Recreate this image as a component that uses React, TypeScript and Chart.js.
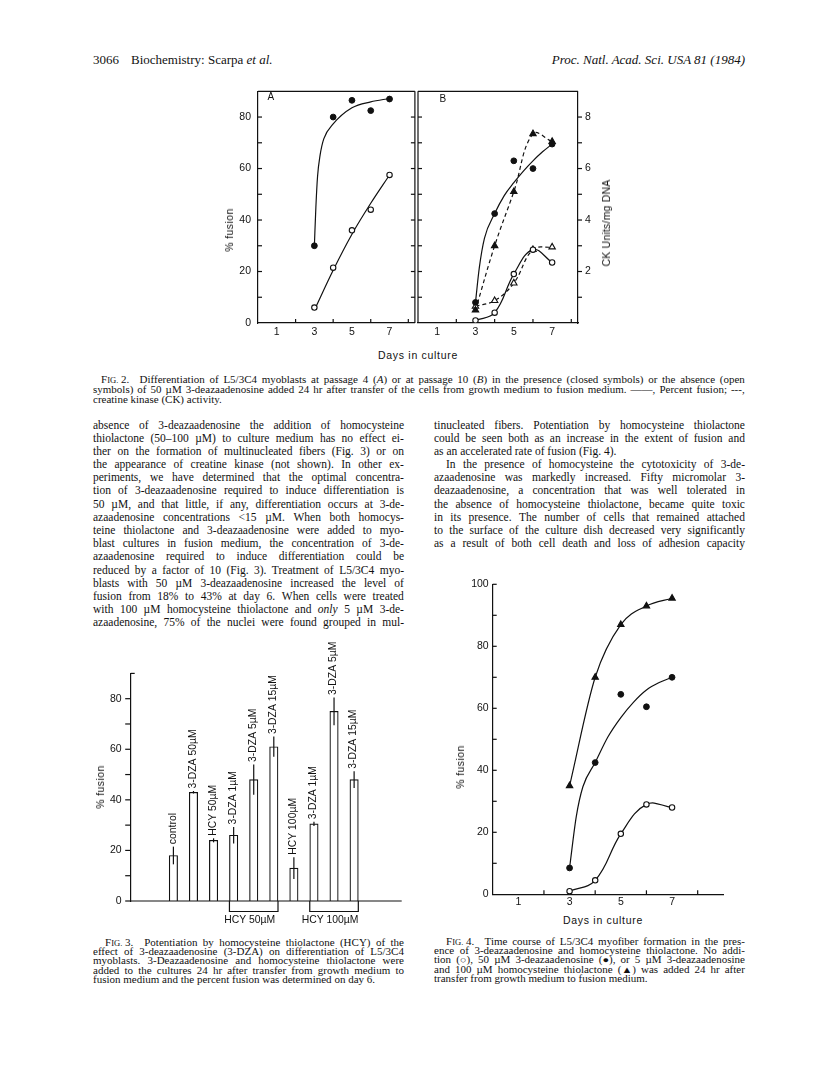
import React, { useEffect, useRef } from "react";
import { Chart, registerables } from "chart.js";

Chart.register(...registerables);

const INK = "#111111";
const SANS = "'Liberation Sans', Arial, Helvetica, sans-serif";
const SERIF = "'Liberation Serif', 'Times New Roman', Times, serif";

// ---------- shared axis values ----------
const days = [3, 4, 5, 6, 7];
const dayLabelTicks = [1, 3, 5, 7];
const dayMinorTicks = [2, 4, 6, 8];
const fusionLabelTicks = [0, 20, 40, 60, 80];
const fusionMinorTicks = [10, 20, 30, 40, 50, 60, 70, 80];
const ckLabelTicks = [2, 4, 6, 8];
const ckMinorTicks = [1, 2, 3, 4, 5, 6, 7, 8];

// ---------- Fig. 2A ----------
const fig2A_fusionClosed = [30, 80, 86.5, 82.5, 87];
const fig2A_fusionOpen = [6, 21.5, 36, 44, 57.5];
const fig2A_closedCurveDays = [3, 3.08, 3.17, 3.3, 3.5, 4, 5, 6, 7];
const fig2A_closedCurveFusion = [30, 45, 57, 65, 71.5, 77.3, 83.6, 85.9, 87.2];
const fig2A_openCurveDays = [3, 4, 5, 6, 7];
const fig2A_openCurveFusion = [5, 20.5, 34.5, 46.5, 57.5];

// ---------- Fig. 2B ----------
const fig2B_fusionClosed = [8, 42.5, 63, 60, 69.5];
const fig2B_fusionOpen = [1, 4, 19, 28.5, 23.5];
const fig2B_ckClosed = [0.5, 3.0, 5.1, 7.35, 7.05];
const fig2B_ckOpen = [0.65, 0.87, 1.55, 2.85, 2.95];
const fig2B_closedCurveDays = [3, 3.2, 3.47, 4, 4.5, 5, 5.5, 6, 6.5, 7];
const fig2B_closedCurveFusion = [8, 21.5, 33, 42.5, 49.5, 54.5, 59, 63, 66.5, 69.5];

// ---------- Fig. 3 ----------
const fig3Labels = [
  "control",
  "3-DZA 50µM",
  "HCY 50µM",
  "3-DZA 1µM",
  "3-DZA 5µM",
  "3-DZA 15µM",
  "HCY 100µM",
  "3-DZA 1µM",
  "3-DZA 5µM",
  "3-DZA 15µM",
];
const fig3Values = [18, 43, 24, 26, 48, 61, 13, 30.5, 75, 48];
const fig3Errors = [3.5, 0.5, 0.8, 3.3, 6, 4, 4.3, 0.8, 5.5, 3.3];
const fig3GroupLabels = ["HCY 50µM", "HCY 100µM"];
const fig3GroupFrom = [4, 8];
const fig3GroupTo = [6, 10];
const fig3LabelTicks = [0, 20, 40, 60, 80];
const fig3MinorTicks = [0, 10, 20, 30, 40, 50, 60, 70, 80];

// ---------- Fig. 4 ----------
const fig4LabelTicks = [0, 20, 40, 60, 80, 100];
const fig4MinorTicks = [10, 20, 30, 40, 50, 60, 70, 80, 90];
const fig4Triangle = [35, 70, 87, 93, 95.5];
const fig4Closed = [8.5, 42.5, 64.5, 60.5, 70];
const fig4Open = [1, 4.5, 19.5, 29, 28];
const fig4ClosedCurveDays = [3, 3.26, 3.52, 4, 4.5, 5, 5.5, 6, 6.5, 7];
const fig4ClosedCurveFusion = [8.5, 25, 34.7, 42.5, 50.8, 57, 62, 65.9, 68.3, 70];

// ---------- helpers ----------
type Pt = { x: number; y: number };
const zip = (xs: number[], ys: number[]): Pt[] => xs.map((x, i) => ({ x, y: ys[i] }));
const fixedTicks = (values: number[]) => (s: any) => {
  s.ticks = values.map((v) => ({ value: v }));
};
function seg(ctx: CanvasRenderingContext2D, x1: number, y1: number, x2: number, y2: number) {
  ctx.beginPath();
  ctx.moveTo(x1, y1);
  ctx.lineTo(x2, y2);
  ctx.stroke();
}

const tickFont = { family: SANS, size: 10.5 };
const LW = 1.2;
const noGrid = { display: false, drawTicks: false, tickLength: 0 };

const closedPts = (data: Pt[]) => ({
  data,
  showLine: false,
  pointStyle: "circle",
  pointRadius: 2.9,
  pointBackgroundColor: INK,
  pointBorderColor: INK,
  pointBorderWidth: 1,
  order: 0,
});
const openPts = (data: Pt[]) => ({
  data,
  showLine: false,
  pointStyle: "circle",
  pointRadius: 2.7,
  pointBackgroundColor: "#fff",
  pointBorderColor: INK,
  pointBorderWidth: 1.1,
  order: 0,
});
const triPts = (data: Pt[], filled: boolean, extra: any = {}) => ({
  data,
  showLine: false,
  pointStyle: "triangle",
  pointRadius: 3.7,
  pointBackgroundColor: filled ? INK : "#fff",
  pointBorderColor: INK,
  pointBorderWidth: 1.1,
  order: 0,
  ...extra,
});
const curve = (data: Pt[], extra: any = {}) => ({
  data,
  showLine: true,
  pointRadius: 0,
  borderColor: INK,
  borderWidth: LW,
  fill: false,
  order: 1,
  ...extra,
});

const baseOptions = (padding: any) => ({
  responsive: false,
  animation: false,
  events: [],
  layout: { padding },
  plugins: { legend: { display: false }, tooltip: { enabled: false }, title: { display: false } },
});

const axisBorder = { display: true, color: INK, width: LW };

// ---------- chart configs ----------
function fig2AConfig() {
  return {
    type: "scatter",
    data: {
      datasets: [
        closedPts(zip(days, fig2A_fusionClosed)),
        openPts(zip(days, fig2A_fusionOpen)),
        curve(zip(fig2A_closedCurveDays, fig2A_closedCurveFusion), { cubicInterpolationMode: "monotone" }),
        curve(zip(fig2A_openCurveDays, fig2A_openCurveFusion), { tension: 0.35 }),
      ],
    },
    options: {
      ...baseOptions({ top: 10, right: 2, bottom: 0, left: 0 }),
      scales: {
        x: {
          type: "linear",
          min: 0,
          max: 8.35,
          afterBuildTicks: fixedTicks(dayLabelTicks),
          afterFit: (s: any) => {
            s.height = 23;
          },
          grid: noGrid,
          border: axisBorder,
          ticks: { font: tickFont, color: INK, padding: 3, maxRotation: 0, autoSkip: false },
        },
        y: {
          min: 0,
          max: 90,
          afterBuildTicks: fixedTicks(fusionLabelTicks),
          afterFit: (s: any) => {
            s.width = 50;
          },
          grid: noGrid,
          border: axisBorder,
          ticks: { font: tickFont, color: INK, padding: 7, autoSkip: false },
        },
      },
    },
    plugins: [
      {
        id: "fig2aDeco",
        afterDraw(chart: any) {
          const { ctx, chartArea: a } = chart;
          const xs = chart.scales.x;
          const ys = chart.scales.y;
          ctx.save();
          ctx.strokeStyle = INK;
          ctx.lineWidth = LW;
          seg(ctx, a.left, a.top, a.right, a.top);
          seg(ctx, a.right, a.top, a.right, a.bottom);
          fusionMinorTicks.forEach((v) => {
            const p = ys.getPixelForValue(v);
            seg(ctx, a.left, p, a.left + 4, p);
            seg(ctx, a.right, p, a.right - 4, p);
          });
          dayMinorTicks.forEach((d) => {
            const p = xs.getPixelForValue(d);
            seg(ctx, p, a.bottom, p, a.bottom - 4);
          });
          ctx.restore();
        },
      },
    ],
  };
}

function fig2BConfig() {
  return {
    type: "scatter",
    data: {
      datasets: [
        closedPts(zip(days, fig2B_fusionClosed)),
        openPts(zip(days, fig2B_fusionOpen)),
        triPts(zip(days, fig2B_ckClosed), true, { yAxisID: "y2" }),
        triPts(zip(days, fig2B_ckOpen), false, { yAxisID: "y2" }),
        curve(zip(fig2B_closedCurveDays, fig2B_closedCurveFusion), { cubicInterpolationMode: "monotone" }),
        curve(zip(days, fig2B_fusionOpen), { tension: 0.4 }),
        curve(zip(days, fig2B_ckClosed), { yAxisID: "y2", tension: 0.4, borderDash: [4, 3] }),
        curve(zip(days, fig2B_ckOpen), { yAxisID: "y2", tension: 0.4, borderDash: [4, 3] }),
      ],
    },
    options: {
      ...baseOptions({ top: 10, right: 0, bottom: 0, left: 8 }),
      scales: {
        x: {
          type: "linear",
          min: 0,
          max: 8.35,
          afterBuildTicks: fixedTicks(dayLabelTicks),
          afterFit: (s: any) => {
            s.height = 23;
          },
          grid: noGrid,
          border: axisBorder,
          ticks: { font: tickFont, color: INK, padding: 3, maxRotation: 0, autoSkip: false },
        },
        y: { display: false, min: 0, max: 90 },
        y2: {
          position: "right",
          min: 0,
          max: 9,
          afterBuildTicks: fixedTicks(ckLabelTicks),
          afterFit: (s: any) => {
            s.width = 64;
          },
          grid: noGrid,
          border: axisBorder,
          ticks: { font: tickFont, color: INK, padding: 7, autoSkip: false },
        },
      },
    },
    plugins: [
      {
        id: "fig2bDeco",
        afterDraw(chart: any) {
          const { ctx, chartArea: a } = chart;
          const xs = chart.scales.x;
          const ys = chart.scales.y;
          const y2 = chart.scales.y2;
          ctx.save();
          ctx.strokeStyle = INK;
          ctx.lineWidth = LW;
          seg(ctx, a.left, a.top, a.right, a.top);
          seg(ctx, a.left, a.top, a.left, a.bottom);
          fusionMinorTicks.forEach((v) => {
            const p = ys.getPixelForValue(v);
            seg(ctx, a.left, p, a.left + 4, p);
          });
          ckMinorTicks.forEach((v) => {
            const p = y2.getPixelForValue(v);
            seg(ctx, a.right, p, a.right + 4, p);
          });
          dayMinorTicks.forEach((d) => {
            const p = xs.getPixelForValue(d);
            seg(ctx, p, a.bottom, p, a.bottom - 4);
          });
          ctx.restore();
        },
      },
    ],
  };
}

function fig3Config() {
  return {
    type: "bar",
    data: {
      datasets: [
        {
          data: fig3Values.map((v, i) => ({ x: i + 1, y: v })),
          backgroundColor: "#fff",
          borderColor: INK,
          borderWidth: LW,
          barThickness: 8.4,
        },
      ],
    },
    options: {
      ...baseOptions({ top: 45.4, right: 8.3, bottom: 31, left: 0 }),
      scales: {
        x: { type: "linear", min: 0.223, max: 11.02, display: false },
        y: {
          min: 0,
          max: 90,
          afterBuildTicks: fixedTicks(fig3LabelTicks),
          afterFit: (s: any) => {
            s.width = 44.7;
          },
          grid: noGrid,
          border: axisBorder,
          ticks: { font: tickFont, color: INK, padding: 9, autoSkip: false },
        },
      },
    },
    plugins: [
      {
        id: "fig3Deco",
        afterDraw(chart: any) {
          const { ctx, chartArea: a } = chart;
          const xs = chart.scales.x;
          const ys = chart.scales.y;
          ctx.save();
          ctx.strokeStyle = INK;
          ctx.fillStyle = INK;
          ctx.lineWidth = LW;
          seg(ctx, a.left, a.bottom, a.right, a.bottom);
          fig3MinorTicks.forEach((v) => {
            const p = ys.getPixelForValue(v);
            seg(ctx, a.left - 5.5, p, a.left, p);
          });
          const top = ys.getPixelForValue(90);
          seg(ctx, a.left, top, a.left + 4, top);
          ctx.font = `10.4px ${SANS}`;
          fig3Values.forEach((v, i) => {
            const px = xs.getPixelForValue(i + 1);
            const e = fig3Errors[i];
            const yTop = ys.getPixelForValue(v + e);
            seg(ctx, px, ys.getPixelForValue(v - e), px, yTop);
            ctx.save();
            ctx.translate(px - 0.5, yTop - 2.5);
            ctx.rotate(-Math.PI / 2);
            ctx.textAlign = "left";
            ctx.textBaseline = "middle";
            ctx.fillText(fig3Labels[i], 0, 0);
            ctx.restore();
          });
          const half = 4.2;
          fig3GroupLabels.forEach((lab, g) => {
            const xl = xs.getPixelForValue(fig3GroupFrom[g]) - half;
            const xr = xs.getPixelForValue(fig3GroupTo[g]) + half;
            const yb = a.bottom + 10.5;
            ctx.beginPath();
            ctx.moveTo(xl, a.bottom);
            ctx.lineTo(xl, yb);
            ctx.lineTo(xr, yb);
            ctx.lineTo(xr, a.bottom);
            ctx.stroke();
            ctx.textAlign = "center";
            ctx.textBaseline = "middle";
            ctx.fillText(lab, (xl + xr) / 2 - 4, a.bottom + 19.5);
          });
          ctx.restore();
        },
      },
    ],
  };
}

function fig4Config() {
  return {
    type: "scatter",
    data: {
      datasets: [
        triPts(zip(days, fig4Triangle), true, { showLine: true, borderColor: INK, borderWidth: LW, cubicInterpolationMode: "monotone" }),
        closedPts(zip(days, fig4Closed)),
        openPts(zip(days, fig4Open)),
        curve(zip(fig4ClosedCurveDays, fig4ClosedCurveFusion), { cubicInterpolationMode: "monotone" }),
        curve(zip(days, fig4Open), { tension: 0.4 }),
      ],
    },
    options: {
      ...baseOptions({ top: 16.3, right: 8.7, bottom: 0, left: 0 }),
      scales: {
        x: {
          type: "linear",
          min: 0,
          max: 9,
          afterBuildTicks: fixedTicks(dayLabelTicks),
          afterFit: (s: any) => {
            s.height = 19.7;
          },
          grid: noGrid,
          border: axisBorder,
          ticks: { font: tickFont, color: INK, padding: 2, maxRotation: 0, autoSkip: false },
        },
        y: {
          min: 0,
          max: 100,
          afterBuildTicks: fixedTicks(fig4LabelTicks),
          afterFit: (s: any) => {
            s.width = 37.7;
          },
          grid: noGrid,
          border: axisBorder,
          ticks: { font: tickFont, color: INK, padding: 4, autoSkip: false },
        },
      },
    },
    plugins: [
      {
        id: "fig4Deco",
        afterDraw(chart: any) {
          const { ctx, chartArea: a } = chart;
          const xs = chart.scales.x;
          const ys = chart.scales.y;
          ctx.save();
          ctx.strokeStyle = INK;
          ctx.lineWidth = LW;
          fig4MinorTicks.forEach((v) => {
            const p = ys.getPixelForValue(v);
            seg(ctx, a.left, p, a.left + 4, p);
          });
          const top = ys.getPixelForValue(100);
          seg(ctx, a.left, top, a.left + 4, top);
          dayMinorTicks.forEach((d) => {
            const p = xs.getPixelForValue(d);
            seg(ctx, p, a.bottom, p, a.bottom - 4);
          });
          ctx.restore();
        },
      },
    ],
  };
}

// ---------- text ----------
type LineSpec = { t: string; j?: boolean; ind?: number };

const fig2Caption: LineSpec[] = [
  { t: "F{IG.}\u00a02.\u00a0\u00a0 Differentiation of L5/3C4 myoblasts at passage 4 (*A*) or at passage 10 (*B*) in the presence (closed symbols) or the absence (open", ind: 8 },
  { t: "symbols) of 50 µM 3-deazaadenosine added 24 hr after transfer of the cells from growth medium to fusion medium. ——, Percent fusion; ---," },
  { t: "creatine kinase (CK) activity.", j: false },
];

const leftBody: LineSpec[] = [
  { t: "absence of 3-deazaadenosine the addition of homocysteine" },
  { t: "thiolactone (50–100 µM) to culture medium has no effect ei-" },
  { t: "ther on the formation of multinucleated fibers (Fig. 3) or on" },
  { t: "the appearance of creatine kinase (not shown). In other ex-" },
  { t: "periments, we have determined that the optimal concentra-" },
  { t: "tion of 3-deazaadenosine required to induce differentiation is" },
  { t: "50 µM, and that little, if any, differentiation occurs at 3-de-" },
  { t: "azaadenosine concentrations <15 µM. When both homocys-" },
  { t: "teine thiolactone and 3-deazaadenosine were added to myo-" },
  { t: "blast cultures in fusion medium, the concentration of 3-de-" },
  { t: "azaadenosine required to induce differentiation could be" },
  { t: "reduced by a factor of 10 (Fig. 3). Treatment of L5/3C4 myo-" },
  { t: "blasts with 50 µM 3-deazaadenosine increased the level of" },
  { t: "fusion from 18% to 43% at day 6. When cells were treated" },
  { t: "with 100 µM homocysteine thiolactone and *only* 5 µM 3-de-" },
  { t: "azaadenosine, 75% of the nuclei were found grouped in mul-" },
];

const rightBody: LineSpec[] = [
  { t: "tinucleated fibers. Potentiation by homocysteine thiolactone" },
  { t: "could be seen both as an increase in the extent of fusion and" },
  { t: "as an accelerated rate of fusion (Fig. 4).", j: false },
  { t: "In the presence of homocysteine the cytotoxicity of 3-de-", ind: 12 },
  { t: "azaadenosine was markedly increased. Fifty micromolar 3-" },
  { t: "deazaadenosine, a concentration that was well tolerated in" },
  { t: "the absence of homocysteine thiolactone, became quite toxic" },
  { t: "in its presence. The number of cells that remained attached" },
  { t: "to the surface of the culture dish decreased very significantly" },
  { t: "as a result of both cell death and loss of adhesion capacity" },
];

const fig3Caption: LineSpec[] = [
  { t: "F{IG.}\u00a03.\u00a0\u00a0 Potentiation by homocysteine thiolactone (HCY) of the", ind: 12 },
  { t: "effect of 3-deazaadenosine (3-DZA) on differentiation of L5/3C4" },
  { t: "myoblasts. 3-Deazaadenosine and homocysteine thiolactone were" },
  { t: "added to the cultures 24 hr after transfer from growth medium to" },
  { t: "fusion medium and the percent fusion was determined on day 6.", j: false },
];

const fig4Caption: LineSpec[] = [
  { t: "F{IG.}\u00a04.\u00a0\u00a0 Time course of L5/3C4 myofiber formation in the pres-", ind: 12 },
  { t: "ence of 3-deazaadenosine and homocysteine thiolactone. No addi-" },
  { t: "tion (○), 50 µM 3-deazaadenosine (●), or 5 µM 3-deazaadenosine" },
  { t: "and 100 µM homocysteine thiolactone (▲) was added 24 hr after" },
  { t: "transfer from growth medium to fusion medium.", j: false },
];

let measureCtx: CanvasRenderingContext2D | null = null;
function textWidth(text: string, fontSize: number): number {
  if (!measureCtx) measureCtx = document.createElement("canvas").getContext("2d");
  if (!measureCtx) return 0;
  measureCtx.font = `${fontSize}px ${SERIF}`;
  return measureCtx.measureText(text.replace(/[*{}]/g, "")).width;
}

function Rich({ token }: { token: string }) {
  const parts: React.ReactNode[] = [];
  let italic = false;
  let small = false;
  let buf = "";
  let k = 0;
  const flush = () => {
    if (buf) {
      parts.push(
        <span key={k++} style={{ fontStyle: italic ? "italic" : "normal", fontSize: small ? "0.78em" : undefined }}>
          {buf}
        </span>
      );
      buf = "";
    }
  };
  for (const c of token) {
    if (c === "*") {
      flush();
      italic = !italic;
    } else if (c === "{") {
      flush();
      small = true;
    } else if (c === "}") {
      flush();
      small = false;
    } else buf += c;
  }
  flush();
  return <>{parts}</>;
}

function TextBlock({
  left,
  top,
  width,
  fontSize,
  lineHeight,
  lines,
  squeeze = 1,
}: {
  left: number;
  top: number;
  width: number;
  fontSize: number;
  lineHeight: number;
  lines: LineSpec[];
  squeeze?: number;
}) {
  return (
    <div
      style={{
        position: "absolute",
        left,
        top,
        width,
        fontFamily: SERIF,
        fontSize,
        color: INK,
        transform: squeeze !== 1 ? `scaleY(${squeeze})` : undefined,
        transformOrigin: "0 0",
      }}
    >
      {lines.map((ln, i) => {
        const ind = ln.ind || 0;
        const avail = width - ind;
        const words = ln.t.split(" ");
        const base: React.CSSProperties = {
          height: lineHeight,
          lineHeight: lineHeight + "px",
          whiteSpace: "pre",
          marginLeft: ind,
        };
        const natural = textWidth(ln.t, fontSize);
        const plain = (
          <>
            {words.map((w, n) => (
              <React.Fragment key={n}>
                {n > 0 ? " " : ""}
                <Rich token={w} />
              </React.Fragment>
            ))}
          </>
        );
        if (ln.j === false) {
          return (
            <div key={i} style={{ ...base, width: avail }}>
              {plain}
            </div>
          );
        }
        if (natural > avail) {
          return (
            <div
              key={i}
              style={{ ...base, width: natural, transform: `scaleX(${avail / natural})`, transformOrigin: "0 0" }}
            >
              {plain}
            </div>
          );
        }
        return (
          <div key={i} style={{ ...base, width: avail, display: "flex", justifyContent: "space-between" }}>
            {words.map((w, n) => (
              <span key={n}>
                <Rich token={w} />
              </span>
            ))}
          </div>
        );
      })}
    </div>
  );
}

function Label({
  x,
  y,
  text,
  size = 10.5,
  rotate = 0,
  spacing = 0.4,
}: {
  x: number;
  y: number;
  text: string;
  size?: number;
  rotate?: number;
  spacing?: number;
}) {
  return (
    <div
      style={{
        position: "absolute",
        left: x,
        top: y,
        transform: `translate(-50%, -50%) rotate(${rotate}deg)`,
        whiteSpace: "nowrap",
        fontFamily: SANS,
        fontSize: size,
        letterSpacing: spacing,
        color: INK,
        lineHeight: "12px",
      }}
    >
      {text}
    </div>
  );
}

function ChartBox({ left, top, width, height, build }: { left: number; top: number; width: number; height: number; build: () => any }) {
  const ref = useRef<HTMLCanvasElement>(null);
  useEffect(() => {
    const chart = new Chart(ref.current as HTMLCanvasElement, build());
    return () => chart.destroy();
  }, []);
  return (
    <canvas
      ref={ref}
      width={width}
      height={height}
      style={{ position: "absolute", left, top, width, height, display: "block" }}
    />
  );
}

export default function App() {
  const head: React.CSSProperties = {
    position: "absolute",
    top: 52,
    fontFamily: SERIF,
    fontSize: 13,
    lineHeight: "15px",
    whiteSpace: "pre",
  };
  return (
    <div
      style={{
        position: "absolute",
        left: 0,
        top: 0,
        width: 816,
        height: 1071,
        background: "#fff",
        overflow: "hidden",
        color: INK,
      }}
    >
      {/* running head */}
      <div style={{ ...head, left: 93 }}>3066</div>
      <div style={{ ...head, left: 131 }}>
        Biochemistry: Scarpa <i>et al.</i>
      </div>
      <div style={{ ...head, right: 816 - 745, fontStyle: "italic" }}>Proc. Natl. Acad. Sci. USA 81 (1984)</div>

      {/* Fig. 2 */}
      <ChartBox left={208} top={78} width={212} height={268} build={fig2AConfig} />
      <ChartBox left={410} top={78} width={232} height={268} build={fig2BConfig} />
      <Label x={271} y={97} text="A" size={10} />
      <Label x={443} y={99} text="B" size={10} />
      <Label x={229} y={230} text="% fusion" rotate={-90} />
      <Label x={606} y={223} text="CK Units/mg DNA" rotate={-90} spacing={0.2} />
      <Label x={418} y={355} text="Days in culture" spacing={0.7} />
      <TextBlock left={93} top={375} width={652} fontSize={11} lineHeight={11.6} squeeze={0.86} lines={fig2Caption} />

      {/* body */}
      <TextBlock left={93} top={418.5} width={311} fontSize={11.5} lineHeight={13.2} lines={leftBody} />
      <TextBlock left={434} top={418.5} width={311} fontSize={11.5} lineHeight={13.2} lines={rightBody} />

      {/* Fig. 3 */}
      <ChartBox left={86} top={628} width={324} height={304} build={fig3Config} />
      <Label x={100} y={787} text="% fusion" rotate={-90} />
      <TextBlock left={93} top={938} width={311} fontSize={11} lineHeight={11} squeeze={0.85} lines={fig3Caption} />

      {/* Fig. 4 */}
      <ChartBox left={455} top={568} width={277} height={346} build={fig4Config} />
      <Label x={460} y={767} text="% fusion" rotate={-90} />
      <Label x={603} y={920} text="Days in culture" spacing={0.7} />
      <TextBlock left={434} top={937} width={311} fontSize={11} lineHeight={11} squeeze={0.85} lines={fig4Caption} />
    </div>
  );
}
